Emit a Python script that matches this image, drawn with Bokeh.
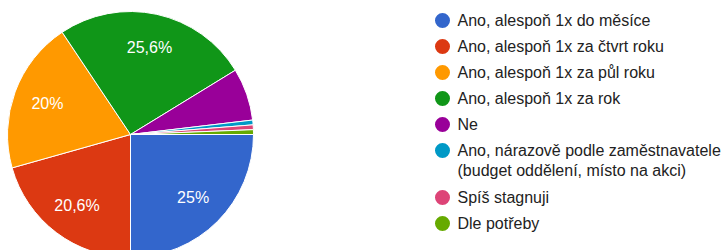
import numpy as np
from bokeh.plotting import figure
from bokeh.models import Range1d, ColumnDataSource
from bokeh.embed import file_html
from bokeh.resources import INLINE
from bokeh.core.properties import value

# ---- data ----
categories = [
    "Ano, alespoň 1x do měsíce",
    "Ano, alespoň 1x za čtvrt roku",
    "Ano, alespoň 1x za půl roku",
    "Ano, alespoň 1x za rok",
    "Ne",
    "Ano, nárazově podle zaměstnavatele\n(budget oddělení, místo na akci)",
    "Spíš stagnuji",
    "Dle potřeby",
]
counts = [40, 33, 32, 41, 11, 1, 1, 1]
colors = ["#3366cc", "#dc3912", "#ff9900", "#109618",
          "#990099", "#0099c6", "#dd4477", "#66aa00"]

# ---- layout (page pixels -> figure coords) ----
W, H = 728, 250
def fx(px):
    return px
def fy(py):
    return 250 - py

CX, CY, R = fx(130), fy(134), 123
FONT = "Liberation Sans"

total = float(sum(counts))
frac = np.array(counts) / total
cum_end = np.cumsum(frac)
cum_start = cum_end - frac
# clockwise from 3 o'clock
start_ang = -cum_end * 2 * np.pi
end_ang = -cum_start * 2 * np.pi
mid_ang = -(cum_start + frac / 2) * 2 * np.pi

def fmt(f):
    s = f"{f*100:.1f}"
    if s.endswith(".0"):
        s = s[:-2]
    return s.replace(".", ",") + "%"

pct_labels = [fmt(f) if f >= 0.1 else "" for f in frac]

p = figure(width=W, height=H, x_range=Range1d(0, W), y_range=Range1d(0, H),
           output_backend="svg", toolbar_location=None, min_border=0)
p.axis.visible = False
p.grid.visible = False
p.outline_line_color = None
p.background_fill_color = "white"
p.border_fill_color = "white"

src = ColumnDataSource(dict(start=start_ang, end=end_ang, color=colors))
p.wedge(x=CX, y=CY, radius=R, start_angle="start", end_angle="end",
        fill_color="color", line_color="white", line_width=1, source=src)

lr = 0.72 * R
lab = ColumnDataSource(dict(
    x=CX + lr * np.cos(mid_ang), y=CY + lr * np.sin(mid_ang), t=pct_labels))
p.text(x="x", y="y", text="t", source=lab, text_color="white",
       text_font=value(FONT), text_font_size="16px",
       text_align="center", text_baseline="middle")

# ---- legend ----
row_y = []
line_x, line_y, line_t = [], [], []
y = 20
for cat in categories:
    parts = cat.split("\n")
    row_y.append(y)
    for k, part in enumerate(parts):
        line_x.append(fx(457))
        line_y.append(fy(y + 20 * k))
        line_t.append(part)
    y += 26 + 21 * (len(parts) - 1)

p.scatter(x=[fx(442)] * len(categories), y=[fy(v) for v in row_y],
          size=15, marker="circle", fill_color=colors, line_color=None)
p.text(x=line_x, y=line_y, text=line_t, text_color="#222222",
       text_font=value(FONT), text_font_size="16px",
       text_align="left", text_baseline="middle")

open("out.html", "w").write(file_html(p, INLINE))
